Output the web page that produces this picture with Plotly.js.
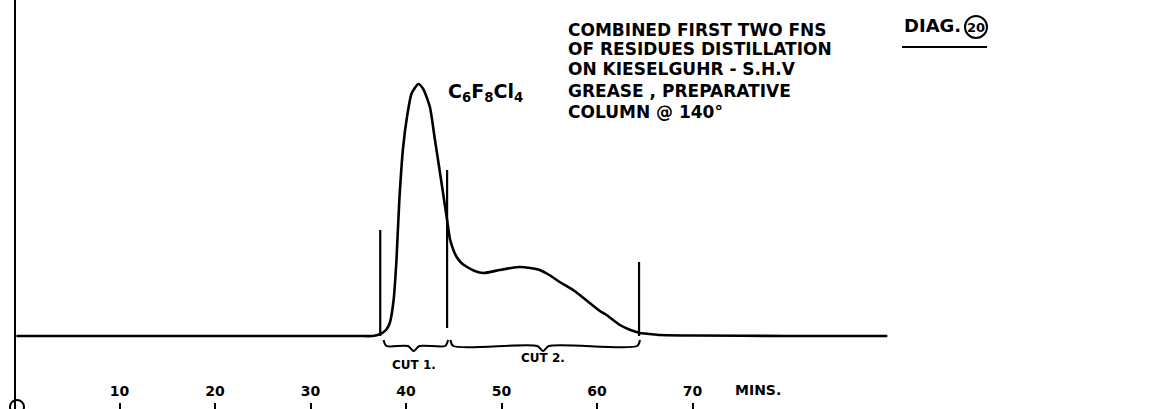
<!DOCTYPE html>
<html>
<head>
<meta charset="utf-8">
<script src="https://cdn.plot.ly/plotly-3.0.1.min.js"></script>
<style>
  html, body { margin: 0; padding: 0; background: #ffffff; }
  #chart { width: 1153px; height: 409px; }
</style>
</head>
<body>
<div id="chart"></div>
<script>
// ---- data (time in minutes, detector response in arbitrary units) ----
const time = [-0.8, 10, 20, 30, 35, 36.5, 37.3, 37.9, 38.3, 38.7, 39.0, 39.3, 39.7, 40.1, 40.6, 41.3,
              41.8, 42.5, 43.0, 43.8, 44.3, 44.6, 45.0, 45.3, 45.8, 46.4, 47.2, 48.1, 49.8, 51.0,
              51.9, 53.0, 54.0, 55.0, 56.1, 57.5, 58.2, 60.3, 61.0, 62.4, 63.5, 64.5, 65.5, 66.6,
              70, 80, 90.4];
const response = [0, 0, 0, 0, 0, 0, 2, 6, 13, 36, 76, 136, 189, 219, 243, 252,
                  247, 229, 198, 148, 116, 97, 85, 79, 73, 69, 65, 63, 66, 68,
                  69, 68, 66, 61, 54, 46, 41, 25, 21, 11, 6, 3, 2, 1,
                  0.5, 0, 0];

const markerTime   = [37.3, 44.3, 64.4];
const markerBottom = [0, 8, 0];
const markerTop    = [106, 166, 74];

const cutStart  = [37.3, 44.3];
const cutEnd    = [44.3, 64.4];
const cutLabels = ['CUT 1.', 'CUT 2.'];

const tickVals = [10, 20, 30, 40, 50, 60, 70];
const tickText = ['10', '20', '30', '40', '50', '60', '70'];
const axisUnit = 'MINS.';

const peakLabel = 'C<sub>6</sub>F<sub>8</sub>Cl<sub>4</sub>';
const noteLines = [
  'COMBINED FIRST TWO FNS',
  'OF RESIDUES DISTILLATION',
  'ON KIESELGUHR - S.H.V',
  'GREASE , PREPARATIVE',
  'COLUMN @ 140°'
];
const diagLabel  = 'DIAG.';
const diagNumber = '20';

// ---- layout helpers ----
const W = 1153, H = 409, ML = 16, MR = 0, MT = 0, MB = 0;
const px = x => (x - ML) / (W - ML - MR);
const py = y => (H - MB - y) / (H - MT - MB);

const ink = '#000000';
const fam = 'DejaVu Sans';

// trace: chromatogram
const traces = [{
  x: time, y: response, type: 'scatter', mode: 'lines',
  line: {color: ink, width: 2.6, shape: 'spline', smoothing: 0.6},
  hoverinfo: 'skip', showlegend: false
}];

// trace: cut markers (vertical strokes)
const mx = [], my = [];
markerTime.forEach((t, i) => { mx.push(t, t, null); my.push(markerBottom[i], markerTop[i], null); });
traces.push({x: mx, y: my, type: 'scatter', mode: 'lines',
  line: {color: ink, width: 2.2}, hoverinfo: 'skip', showlegend: false});

// braces under each cut, built from the cut limits
const braceStyle = {inset: 0.35, ends: -4, bar: -10, tip: -15, tipHalf: 0.6};
cutStart.forEach((s0, i) => {
  const s = s0 + braceStyle.inset, e = cutEnd[i] + 0.1, m = (s0 + cutEnd[i]) / 2;
  traces.push({
    x: [s, s + 0.3, m - braceStyle.tipHalf, m, m + braceStyle.tipHalf, e - 0.3, e],
    y: [braceStyle.ends, braceStyle.bar, braceStyle.bar, braceStyle.tip, braceStyle.bar, braceStyle.bar, braceStyle.ends],
    type: 'scatter', mode: 'lines',
    line: {color: ink, width: 2, shape: 'spline', smoothing: 0.8},
    hoverinfo: 'skip', showlegend: false
  });
});

const annotations = [];
// cut labels
cutLabels.forEach((lab, i) => {
  annotations.push({x: (cutStart[i] + cutEnd[i]) / 2, y: i === 0 ? -29 : -22, xref: 'x', yref: 'y',
    text: lab, showarrow: false, xanchor: 'center', yanchor: 'middle',
    font: {family: fam, size: 12, color: ink, weight: 700}});
});
// peak label
annotations.push({x: px(446), y: py(92), xref: 'paper', yref: 'paper', text: peakLabel,
  showarrow: false, xanchor: 'left', yanchor: 'middle',
  font: {family: fam, size: 19, color: ink, weight: 700}});
// note block
const noteY = [30, 49, 69, 91, 112];
noteLines.forEach((t, i) => {
  annotations.push({x: px(566), y: py(noteY[i]), xref: 'paper', yref: 'paper', text: t,
    showarrow: false, xanchor: 'left', yanchor: 'middle',
    font: {family: fam, size: 17, color: ink, weight: 700}});
});
// diagram number
annotations.push({x: px(902), y: py(26), xref: 'paper', yref: 'paper', text: diagLabel,
  showarrow: false, xanchor: 'left', yanchor: 'middle',
  font: {family: fam, size: 18, color: ink, weight: 700}});
annotations.push({x: px(976), y: py(27), xref: 'paper', yref: 'paper', text: diagNumber,
  showarrow: false, xanchor: 'center', yanchor: 'middle',
  font: {family: fam, size: 13, color: ink, weight: 700}});
// axis unit
annotations.push({x: px(733), y: py(390), xref: 'paper', yref: 'paper', text: axisUnit,
  showarrow: false, xanchor: 'left', yanchor: 'middle',
  font: {family: fam, size: 14, color: ink, weight: 700}});

const shapes = [
  // circle around diagram number
  {type: 'circle', xref: 'paper', yref: 'paper', x0: px(965), x1: px(987), y0: py(38), y1: py(16),
   line: {color: ink, width: 2}},
  // underline of the diagram tag
  {type: 'line', xref: 'paper', yref: 'paper', x0: px(902), x1: px(987), y0: py(47), y1: py(47),
   line: {color: ink, width: 2}},
  // small circle at the foot of the vertical axis
  {type: 'circle', xref: 'paper', yref: 'paper', x0: px(10), x1: px(24), y0: py(414), y1: py(400),
   line: {color: ink, width: 2}}
];

const xMin = -0.84, pxPerMin = 9.55;
const xMax = xMin + (W - ML - MR) / pxPerMin;

const layout = {
  width: W, height: H,
  margin: {l: ML, r: MR, t: MT, b: MB, pad: 0},
  paper_bgcolor: '#ffffff', plot_bgcolor: '#ffffff',
  showlegend: false,
  xaxis: {
    range: [xMin, xMax], showgrid: false, zeroline: false, showline: false,
    tickmode: 'array', tickvals: tickVals, ticktext: tickText,
    ticks: 'inside', ticklen: 6, tickwidth: 2, tickcolor: ink,
    ticklabelposition: 'inside', ticklabelstandoff: 4,
    tickfont: {family: fam, size: 14, color: ink, weight: 700},
    fixedrange: true
  },
  yaxis: {
    range: [-73, 336], showgrid: false, zeroline: false,
    showline: true, linecolor: ink, linewidth: 2.5,
    showticklabels: false, ticks: '', fixedrange: true
  },
  annotations: annotations,
  shapes: shapes
};

Plotly.newPlot('chart', traces, layout, {displayModeBar: false, staticPlot: true});
</script>
</body>
</html>
